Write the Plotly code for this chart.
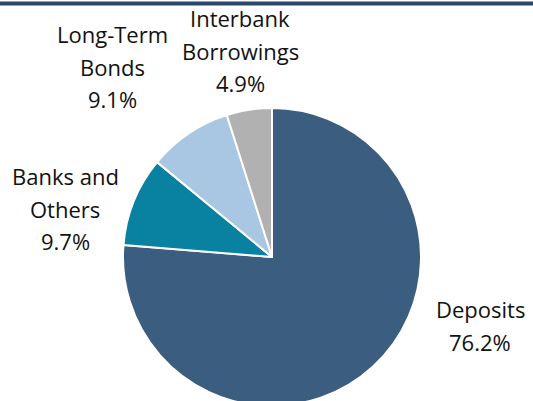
import plotly.graph_objects as go

categories = ["Deposits", "Banks and Others", "Long-Term Bonds", "Interbank Borrowings"]
label_lines = [["Deposits"], ["Banks and", "Others"], ["Long-Term", "Bonds"], ["Interbank", "Borrowings"]]
values = [76.2, 9.7, 9.1, 4.9]
colors = ["#3A5D80", "#0882A0", "#A9C6E2", "#B1B1B1"]

# label anchor (centre x, first-line y) in pixels from top-left
label_pos = [(480, 309), (65, 176), (112, 34), (240, 18)]

W, H = 533, 410  # taller than window; bottom of pie is cut off like the original
line_h = 32.5

fig = go.Figure()
fig.add_trace(go.Pie(
    labels=categories,
    values=values,
    sort=False,
    direction="clockwise",
    rotation=0,
    marker=dict(colors=colors, line=dict(color="white", width=2)),
    textinfo="none",
    hoverinfo="label+percent",
    showlegend=False,
    domain=dict(x=[123 / W, 421 / W], y=[1 - 406 / H, 1 - 108 / H]),
))

annotations = []
for lines, v, (cx, cy) in zip(label_lines, values, label_pos):
    all_lines = lines + [f"{v:.1f}%"]
    for i, t in enumerate(all_lines):
        y = cy + i * line_h
        annotations.append(dict(
            x=cx / W, y=1 - y / H, xref="paper", yref="paper",
            text=t, showarrow=False, xanchor="center", yanchor="middle",
            font=dict(family="Open Sans", size=22, color="#111111"),
        ))

fig.update_layout(
    width=W, height=H,
    margin=dict(l=0, r=0, t=0, b=0),
    paper_bgcolor="white",
    plot_bgcolor="white",
    annotations=annotations,
    shapes=[dict(type="line", xref="paper", yref="paper", x0=0, x1=1,
                 y0=1 - 3.5 / H, y1=1 - 3.5 / H, line=dict(color="#2B4868", width=4))],
)

fig.write_html(
    "out.html",
    config={"displayModeBar": False},
    post_script="document.body.style.margin='0';document.body.style.overflow='hidden';",
)
